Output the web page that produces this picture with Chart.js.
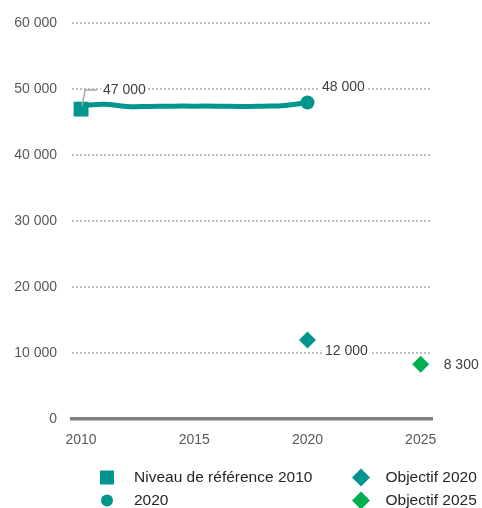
<!DOCTYPE html>
<html>
<head>
<meta charset="utf-8">
<script src="https://cdn.jsdelivr.net/npm/chart.js@4.4.0/dist/chart.umd.min.js"></script>
<style>
  html, body { margin: 0; padding: 0; background: #fff; }
  #wrap { width: 482px; height: 508px; position: relative; }
</style>
</head>
<body>
<div id="wrap"><canvas id="chart"></canvas></div>
<script>
// ----------------------------
// Données
// ----------------------------
const trendYears = [2010, 2011, 2012, 2013, 2014, 2015, 2016, 2017, 2018, 2019, 2020];
const trendValues = [47500, 47750, 47400, 47400, 47450, 47450, 47450, 47400, 47450, 47550, 48000];

const seriesNames = ["Niveau de référence 2010", "2020", "Objectif 2020", "Objectif 2025"];
const seriesYears = [2010, 2020, 2020, 2025];
const seriesValues = [47000, 48000, 12000, 8300];
const seriesLabels = ["47 000", "48 000", "12 000", "8 300"];

const xTicks = [2010, 2015, 2020, 2025];
const yTicks = [0, 10000, 20000, 30000, 40000, 50000, 60000];

// ----------------------------
// Styles
// ----------------------------
const TEAL = "#00968f";
const GREEN = "#00b050";
const FONT = "'Liberation Sans', Arial, sans-serif";

const markerStyles = [
    { style: "rect", radius: 10.5, color: TEAL },
    { style: "circle", radius: 7, color: TEAL },
    { style: "rectRot", radius: 8.5, color: TEAL },
    { style: "rectRot", radius: 8.5, color: GREEN }
];

// position des étiquettes par rapport au point
const labelOffsets = [
    { dx: 22, dy: -19, leader: true },
    { dx: 14.5, dy: -15 },
    { dx: 17.5, dy: 11.5 },
    { dx: 23, dy: 0.5 }
];

// légende (2 colonnes)
const legendSlots = [
    { x: 107, y: 477.5, tx: 134 },
    { x: 107, y: 500.5, tx: 134 },
    { x: 361, y: 477.5, tx: 385.5 },
    { x: 361, y: 500.5, tx: 385.5 }
];
const legendMarker = [
    { style: "rect", radius: 9.9 },
    { style: "circle", radius: 6 },
    { style: "rectRot", radius: 9 },
    { style: "rectRot", radius: 9 }
];

const fmt = v => String(v).replace(/\B(?=(\d{3})+(?!\d))/g, " ");

// ----------------------------
// Jeux de données
// ----------------------------
const datasets = [{
    label: "tendance",
    data: trendYears.map((y, i) => ({ x: y, y: trendValues[i] })),
    borderColor: TEAL,
    borderWidth: 5,
    tension: 0.4,
    pointRadius: 0,
    order: 10
}];

seriesNames.forEach((name, i) => {
    datasets.push({
        label: name,
        data: [{ x: seriesYears[i], y: seriesValues[i] }],
        showLine: false,
        pointStyle: markerStyles[i].style,
        pointRadius: markerStyles[i].radius,
        pointHoverRadius: markerStyles[i].radius,
        backgroundColor: markerStyles[i].color,
        borderColor: markerStyles[i].color,
        borderWidth: 0,
        order: 1
    });
});

// ----------------------------
// Étiquettes de valeurs
// ----------------------------
const valueLabels = {
    id: "valueLabels",
    afterDatasetsDraw(chart) {
        const ctx = chart.ctx;
        ctx.save();
        ctx.font = "14px " + FONT;
        ctx.textBaseline = "middle";
        ctx.textAlign = "left";
        seriesLabels.forEach((txt, i) => {
            const pt = chart.getDatasetMeta(i + 1).data[0];
            const off = labelOffsets[i];
            const tx = pt.x + off.dx;
            const ty = pt.y + off.dy;
            const w = ctx.measureText(txt).width;
            ctx.fillStyle = "#fff";
            ctx.fillRect(tx - 2, ty - 8, w + 4, 16);
            if (off.leader) {
                ctx.strokeStyle = "#a6a6a6";
                ctx.lineWidth = 1.5;
                ctx.beginPath();
                ctx.moveTo(pt.x + 1, pt.y - 3);
                ctx.lineTo(pt.x + 4, ty);
                ctx.lineTo(pt.x + 16, ty);
                ctx.stroke();
            }
            ctx.fillStyle = "#404040";
            ctx.fillText(txt, tx, ty);
        });
        ctx.restore();
    }
};

// ----------------------------
// Légende
// ----------------------------
const customLegend = {
    id: "customLegend",
    afterDraw(chart) {
        const ctx = chart.ctx;
        ctx.save();
        ctx.font = "15.5px " + FONT;
        ctx.textBaseline = "middle";
        ctx.textAlign = "left";
        seriesNames.forEach((name, i) => {
            const s = legendSlots[i];
            const m = legendMarker[i];
            ctx.fillStyle = markerStyles[i].color;
            ctx.strokeStyle = markerStyles[i].color;
            ctx.lineWidth = 0;
            Chart.helpers.drawPoint(ctx, { pointStyle: m.style, radius: m.radius, borderWidth: 0, rotation: 0 }, s.x, s.y);
            ctx.fillStyle = "#262626";
            ctx.fillText(name, s.tx, s.y);
        });
        ctx.restore();
    }
};

// ----------------------------
// Graphique
// ----------------------------
new Chart(document.getElementById("chart"), {
    type: "line",
    data: { datasets: datasets },
    plugins: [valueLabels, customLegend],
    options: {
        responsive: true,
        maintainAspectRatio: false,
        animation: false,
        layout: { autoPadding: false, padding: { top: 20, right: 50, left: 0, bottom: 0 } },
        plugins: {
            legend: { display: false },
            tooltip: { enabled: false }
        },
        scales: {
            x: {
                type: "linear",
                min: 2009.6,
                max: 2025.5,
                afterBuildTicks: scale => { scale.ticks = xTicks.map(v => ({ value: v })); },
                afterFit: scale => { scale.height = 89; },
                grid: { display: false, drawTicks: false },
                border: { display: true, color: "#808080", width: 3.5 },
                ticks: {
                    padding: 13,
                    color: "#595959",
                    font: { family: FONT, size: 14 },
                    callback: v => String(v)
                }
            },
            y: {
                min: 0,
                max: 60000,
                afterBuildTicks: scale => { scale.ticks = yTicks.map(v => ({ value: v })); },
                afterFit: scale => { scale.width = 72; },
                grid: {
                    color: ctx => ctx.tick && ctx.tick.value === 0 ? "rgba(0,0,0,0)" : "#bfbfbf",
                    lineWidth: 2,
                    drawTicks: false
                },
                border: { display: false, dash: [2, 2] },
                ticks: {
                    padding: 15,
                    color: "#595959",
                    font: { family: FONT, size: 14 },
                    callback: v => fmt(v)
                }
            }
        }
    }
});
</script>
</body>
</html>
